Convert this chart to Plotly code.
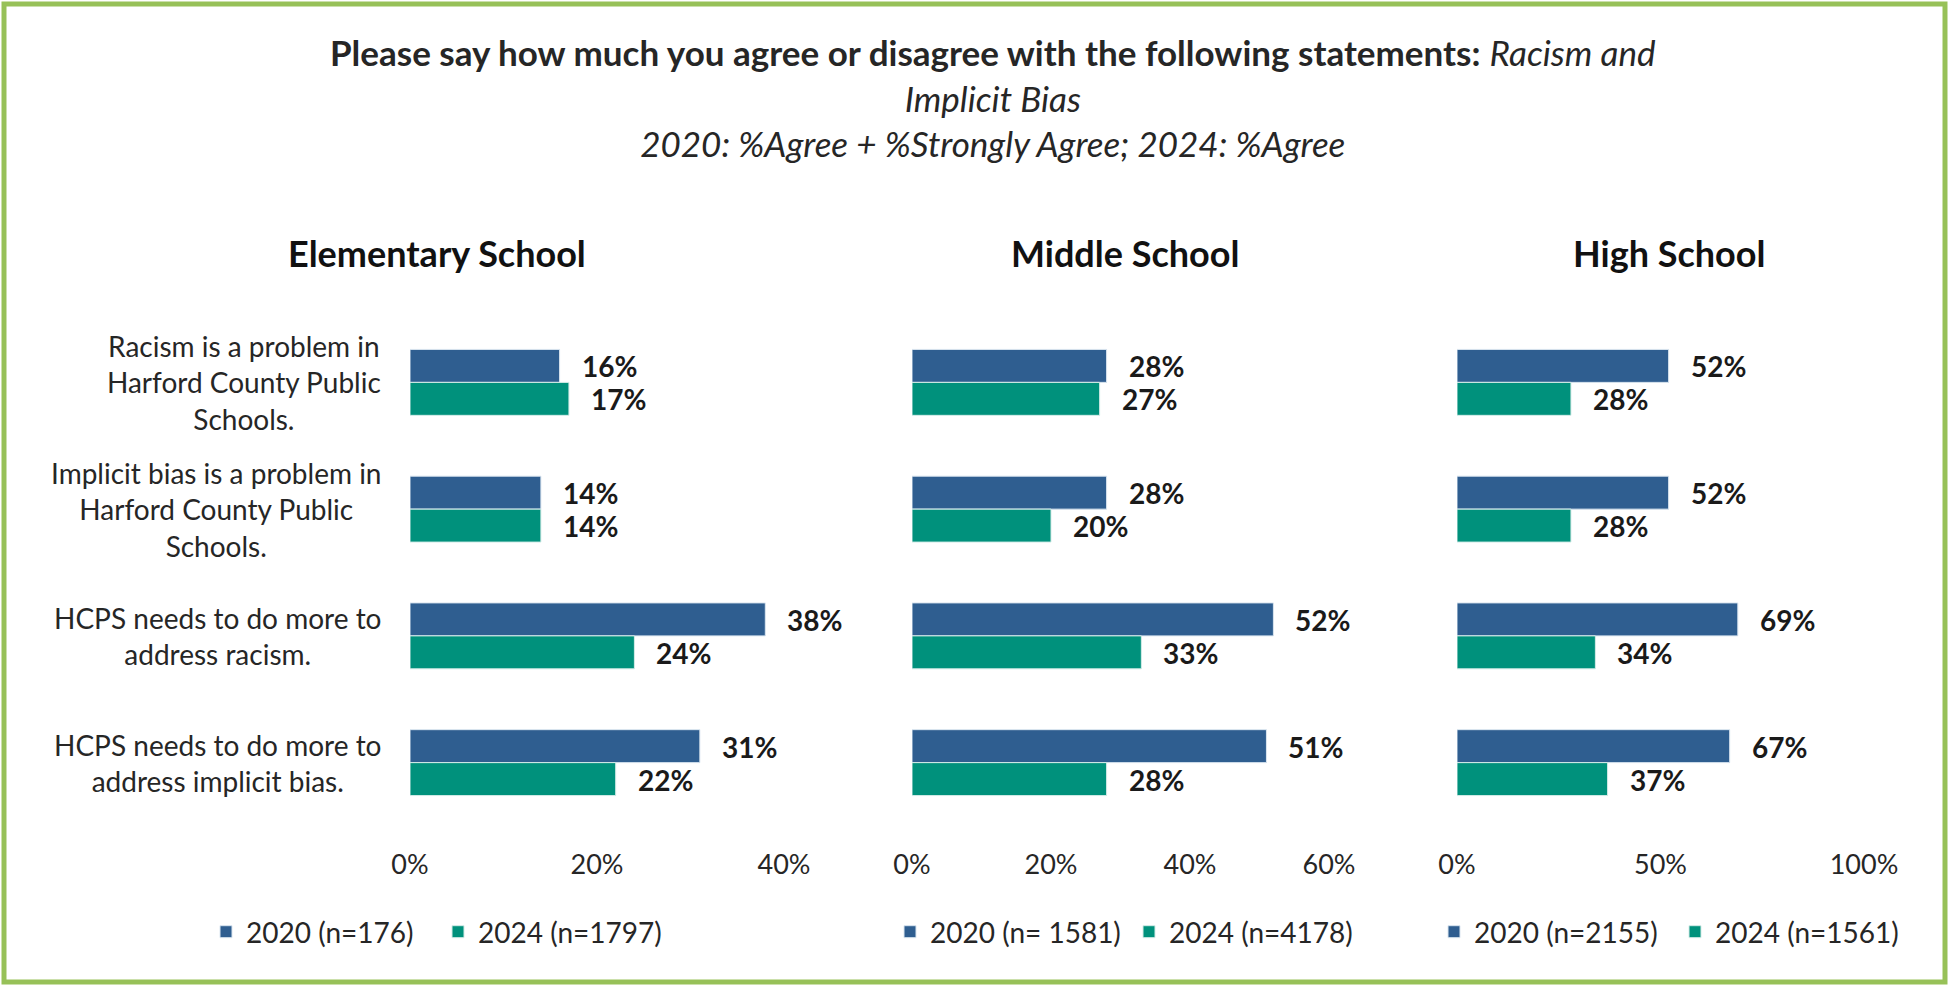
import plotly.graph_objects as go

# ---------------- data ----------------
categories = [
    "Racism is a problem in<br>Harford County Public<br>Schools.",
    "Implicit bias is a problem in<br>Harford County Public<br>Schools.",
    "HCPS needs to do more to<br>address racism.",
    "HCPS needs to do more to<br>address implicit bias.",
]
panel_titles = ["Elementary School", "Middle School", "High School"]

elem_2020 = [16, 14, 38, 31]
elem_2024 = [17, 14, 24, 22]
mid_2020 = [28, 28, 52, 51]
mid_2024 = [27, 20, 33, 28]
high_2020 = [52, 52, 69, 67]
high_2024 = [28, 28, 34, 37]

legend_2020 = ["2020 (n=176)", "2020 (n= 1581)", "2020 (n=2155)"]
legend_2024 = ["2024 (n=1797)", "2024 (n=4178)", "2024 (n=1561)"]

axis_max = [40, 60, 100]
axis_dtick = [20, 20, 50]

# ---------------- style ----------------
W, H = 1949, 986
FONT = "Lato"
BLUE = "#2F5E90"
TEAL = "#00917C"
TXT = "#262626"
GREEN = "#97C158"

def px_x(p):
    return p / W

def px_y(p):
    return 1 - p / H

x_domains = [(410, 784), (912, 1329), (1457, 1864)]
y_top, y_bot = 319, 826

fig = go.Figure()

series_2020 = [elem_2020, mid_2020, high_2020]
series_2024 = [elem_2024, mid_2024, high_2024]
leg_names = ["legend", "legend2", "legend3"]

for i in range(3):
    xa = "x" if i == 0 else f"x{i+1}"
    ya = "y" if i == 0 else f"y{i+1}"
    fig.add_trace(go.Bar(
        y=categories, x=series_2020[i], orientation="h", name=legend_2020[i],
        marker=dict(color=BLUE, line=dict(color="#dbe6f0", width=1)),
        xaxis=xa, yaxis=ya, legend=leg_names[i], hoverinfo="x+name",
    ))
    fig.add_trace(go.Bar(
        y=categories, x=series_2024[i], orientation="h", name=legend_2024[i],
        marker=dict(color=TEAL, line=dict(color="#d5ece8", width=1)),
        xaxis=xa, yaxis=ya, legend=leg_names[i], hoverinfo="x+name",
    ))

annotations = []
for i in range(3):
    xr = "x" if i == 0 else f"x{i+1}"
    yr = "y" if i == 0 else f"y{i+1}"
    for cat, v in zip(categories, series_2020[i]):
        annotations.append(dict(x=v, y=cat, xref=xr, yref=yr, text=f"<b>{v}%</b>",
                                showarrow=False, xanchor="left", yanchor="middle",
                                xshift=20, yshift=16,
                                font=dict(family=FONT, size=28, color="#1a1a1a")))
    for cat, v in zip(categories, series_2024[i]):
        annotations.append(dict(x=v, y=cat, xref=xr, yref=yr, text=f"<b>{v}%</b>",
                                showarrow=False, xanchor="left", yanchor="middle",
                                xshift=20, yshift=-17,
                                font=dict(family=FONT, size=28, color="#1a1a1a")))

for cat in categories:
    annotations.append(dict(x=px_x(383), y=cat, xref="paper", yref="y", text=cat,
                            showarrow=False, xanchor="right", yanchor="middle", align="center",
                            font=dict(family=FONT, size=28, color=TXT)))

title_centers = [437, 1125, 1669]
for t, cx in zip(panel_titles, title_centers):
    annotations.append(dict(x=px_x(cx), y=px_y(253), xref="paper", yref="paper",
                            text=f"<b>{t}</b>", showarrow=False, xanchor="center", yanchor="middle",
                            font=dict(family=FONT, size=36, color="#111111")))

annotations.append(dict(
    x=px_x(993), y=px_y(97), xref="paper", yref="paper", showarrow=False,
    xanchor="center", yanchor="middle", align="center",
    text=("<b>Please say how much you agree or disagree with the following statements:</b> "
          "<i>Racism and</i><br><i>Implicit Bias</i><br>"
          "<i>2020: %Agree + %Strongly Agree; 2024: %Agree</i>"),
    font=dict(family=FONT, size=35, color=TXT)))

shapes = [dict(type="rect", xref="paper", yref="paper",
               x0=px_x(4), x1=px_x(1945), y0=px_y(982), y1=px_y(4),
               line=dict(color=GREEN, width=5), fillcolor="rgba(0,0,0,0)")]

layout = dict(
    width=W, height=H,
    margin=dict(l=0, r=0, t=0, b=0, autoexpand=False),
    paper_bgcolor="white", plot_bgcolor="white",
    barmode="group", bargap=0.48, bargroupgap=0,
    annotations=annotations,
    font=dict(family=FONT, color=TXT),
    shapes=shapes,
)

leg_x = [206, 890, 1434]
entry_w = [187, 194, 196]
for i in range(3):
    xk = "xaxis" if i == 0 else f"xaxis{i+1}"
    yk = "yaxis" if i == 0 else f"yaxis{i+1}"
    layout[xk] = dict(domain=[px_x(x_domains[i][0]), px_x(x_domains[i][1])],
                      anchor="y" if i == 0 else f"y{i+1}",
                      range=[0, axis_max[i]], dtick=axis_dtick[i], tick0=0,
                      ticksuffix="%", showgrid=False, zeroline=False, showline=False,
                      ticks="", ticklabelstandoff=20, automargin=False,
                      tickfont=dict(family=FONT, size=27, color=TXT),
                      fixedrange=True)
    layout[yk] = dict(domain=[px_y(y_bot), px_y(y_top)],
                      anchor="x" if i == 0 else f"x{i+1}",
                      autorange="reversed", showticklabels=False, showgrid=False,
                      zeroline=False, showline=False, ticks="", fixedrange=True,
                      automargin=False)
    layout[leg_names[i]] = dict(orientation="h", x=px_x(leg_x[i]), y=px_y(932),
                                xanchor="left", yanchor="middle",
                                entrywidth=entry_w[i], entrywidthmode="pixels",
                                font=dict(family=FONT, size=28, color=TXT),
                                bgcolor="rgba(0,0,0,0)", traceorder="normal",
                                itemclick=False, itemdoubleclick=False)

fig.update_layout(**layout)
fig.write_html("out.html", config={"displayModeBar": False},
               post_script="document.body.style.margin='0px';")
